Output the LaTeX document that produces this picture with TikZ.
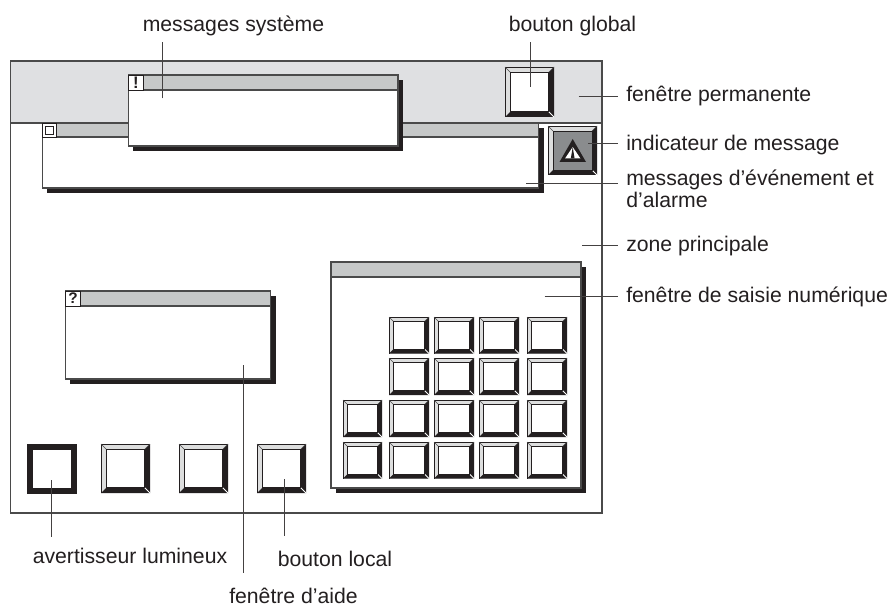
\documentclass[tikz,border=0pt]{standalone}
\usepackage{fontspec}
\setmainfont{Liberation Sans}
\definecolor{bandgrey}{HTML}{DFE0E2}
\definecolor{titlegrey}{HTML}{C6C8C8}
\definecolor{bevelgrey}{HTML}{DDDEDE}
\definecolor{linegrey}{HTML}{4A4A4A}
\definecolor{ink}{HTML}{231F20}
\definecolor{facegrey}{HTML}{8A8C8E}
\tikzset{
  frameline/.style={draw=linegrey,line width=0.8pt},
  leader/.style={draw=ink!85,line width=0.75pt},
  lbl/.style={inner sep=0pt,font=\fontsize{15.9pt}{19pt}\selectfont,text=ink,align=left},
}
% x0 y0 x1 y1 bevel face
\newcommand{\bevelbtn}[6]{%
  \fill[bevelgrey] (#1,#2) rectangle (#3,#4);
  \fill[ink] (#3,#2) -- (#3-#5,#2+#5) -- (#3-#5,#4-#5) -- (#1+#5,#4-#5) -- (#1,#4) -- (#3,#4) -- cycle;
  \draw[white,line width=0.7pt] (#3-#5,#4-#5) -- (#3,#4);
  \draw[ink,line width=0.6pt] (#1+0.3,#4) -- (#1+0.3,#2+0.3) -- (#3,#2+0.3);
  \draw[linegrey,line width=0.5pt] (#1,#2) -- (#1+#5,#2+#5);
  \draw[linegrey,line width=0.5pt] (#3,#2) -- (#3-#5,#2+#5);
  \fill[#6,draw=ink,line width=0.5pt] (#1+#5,#2+#5) rectangle (#3-#5,#4-#5);
}
% x0 y0 x1 ytitle y1
\newcommand{\winbox}[5]{%
  \fill[ink] (#1+4.5,#5) rectangle (#3+5,#5+5);
  \fill[ink] (#3,#2+5) rectangle (#3+5,#5+5);
  \fill[white] (#1,#4) rectangle (#3,#5);
  \fill[titlegrey] (#1,#2) rectangle (#3,#4);
  \draw[frameline] (#1,#2) rectangle (#3,#5);
  \draw[frameline] (#1,#4) -- (#3,#4);
}
\begin{document}
\begin{tikzpicture}[x=0.75pt,y=-0.75pt]
\useasboundingbox (0,0) rectangle (889,606);
% main frame
\fill[white] (0,0) rectangle (889,606);
\fill[bandgrey] (10.5,61) rectangle (602,123);
\draw[frameline] (10.5,61) rectangle (602,513);
\draw[frameline] (10.5,123) -- (602,123);
% event window
\winbox{42.5}{123.5}{538.5}{137}{188}
\fill[white,draw=ink,line width=0.7pt] (42.5,123.5) rectangle (56.5,137.5);
\draw[ink,line width=0.8pt] (45.5,126.5) rectangle (53.5,134.5);
% system message window
\winbox{128.5}{75}{398}{90}{146}
\fill[white,draw=ink,line width=0.7pt] (128.5,75) rectangle (143.5,90);
\node[inner sep=0pt,font=\bfseries\fontsize{12.5pt}{12.5pt}\selectfont,text=ink] (excl) at (136,82.5) {!};
% global button
\bevelbtn{505}{67}{554}{117}{5.5}{white}
% indicator
\bevelbtn{548}{126}{597}{175}{5}{facegrey}
\fill[ink] (572.7,139) -- (586,162) -- (559.5,162) -- cycle;
\fill[white] (572.7,147) -- (580.5,158.5) -- (565,158.5) -- cycle;
\fill[ink] (572.7,147) -- (574.6,158.5) -- (570.8,158.5) -- cycle;
% help window
\winbox{65.5}{291}{270.5}{306}{379}
\fill[white,draw=ink,line width=0.7pt] (65.5,291) rectangle (80.5,306);
\node[inner sep=0pt,font=\bfseries\fontsize{11.5pt}{11.5pt}\selectfont,text=ink] (quest) at (73,298.5) {?};
% numeric window
\winbox{331}{262}{581}{277}{488}
\foreach \yy/\yb in {317/353.5,358/395,400/437,442/478.5}{
  \bevelbtn{389}{\yy}{429}{\yb}{4.5}{white}
  \bevelbtn{434}{\yy}{474}{\yb}{4.5}{white}
  \bevelbtn{479}{\yy}{519}{\yb}{4.5}{white}
  \bevelbtn{527}{\yy}{567}{\yb}{4.5}{white}
}
\foreach \yy/\yb in {400/437,442/478.5}{
  \bevelbtn{343}{\yy}{382}{\yb}{4.5}{white}
}
% bottom buttons
\fill[ink] (27,444) rectangle (76.5,493.5);
\fill[white] (33,450) rectangle (70.5,487.5);
\bevelbtn{101}{444}{150}{493}{5.5}{white}
\bevelbtn{179}{444}{228}{493}{5.5}{white}
\bevelbtn{257}{444}{306}{493}{5.5}{white}
% labels
\node[lbl,anchor=base] (lsys) at (233.5,32) {messages système};
\node[lbl,anchor=base] (lglob) at (572.5,32) {bouton global};
\node[lbl,anchor=base west] (lperm) at (626,102) {fenêtre permanente};
\node[lbl,anchor=base west] (lind) at (626,151) {indicateur de message};
\node[lbl,anchor=base west] (lev) at (626,186) {messages d’événement et};
\node[lbl,anchor=base west] (lev2) at (626,208) {d’alarme};
\node[lbl,anchor=base west] (lzone) at (626,251) {zone principale};
\node[lbl,anchor=base west] (lsais) at (626,302) {fenêtre de saisie numérique};
\node[lbl,anchor=base] (lavert) at (130,563) {avertisseur lumineux};
\node[lbl,anchor=base] (lloc) at (335,566) {bouton local};
\node[lbl,anchor=base] (laide) at (293.5,603) {fenêtre d’aide};
% leader ends
\coordinate (e1a) at (162.3,98.5); \coordinate (e1b) at (162.3,42);
\coordinate (e2a) at (530.7,87); \coordinate (e2b) at (530.7,42);
\coordinate (e3a) at (578.5,97); \coordinate (e3b) at (618,97);
\coordinate (e4a) at (588,143.5); \coordinate (e4b) at (618,143.5);
\coordinate (e5a) at (526,184); \coordinate (e5b) at (618,184);
\coordinate (e6a) at (582,245); \coordinate (e6b) at (618,245);
\coordinate (e7a) at (544.5,296); \coordinate (e7b) at (618,296);
\coordinate (e8a) at (51.5,480); \coordinate (e8b) at (51.5,537);
\coordinate (e9a) at (284,479); \coordinate (e9b) at (284,536);
\coordinate (e10a) at (243.5,365); \coordinate (e10b) at (243.5,573);
\foreach \n in {1,...,10}{\draw[leader] (e\n a) -- (e\n b);}
\end{tikzpicture}
\end{document}
